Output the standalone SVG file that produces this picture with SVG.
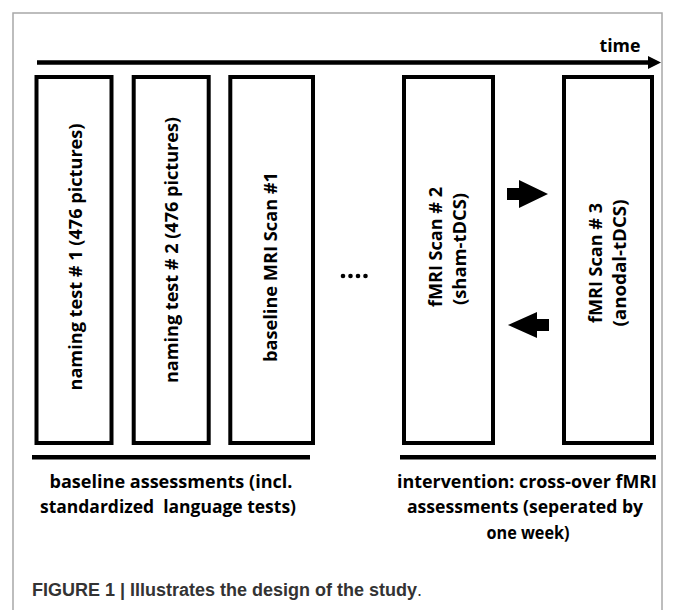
<svg xmlns="http://www.w3.org/2000/svg" width="676" height="610" viewBox="0 0 676 610">
  <style>
    .box { fill: #ffffff; stroke: #000000; stroke-width: 4; }
    .lbl { font-family: "Open Sans", "DejaVu Sans", sans-serif; font-weight: 700; font-size: 17.5px; fill: #000000; text-anchor: middle; }
    .bar { fill: #000000; }
    .cap { font-family: "Liberation Sans", Arial, sans-serif; font-weight: 700; font-size: 18px; fill: #333333; }
  </style>
  <rect x="0" y="0" width="676" height="610" fill="#ffffff"/>
  <rect x="13" y="13" width="649" height="620" fill="none" stroke="#a8a8a8" stroke-width="1.5"/>

  <g id="timeline">
    <line x1="37" y1="62.5" x2="650" y2="62.5" stroke="#000000" stroke-width="4.5"/>
    <polygon points="648,56 661,62.5 648,69" fill="#000000"/>
    <text class="lbl" x="620" y="52" textLength="41" lengthAdjust="spacingAndGlyphs">time</text>
  </g>

  <g id="node-naming1">
    <rect class="box" x="36.5" y="77" width="75" height="366"/>
    <text class="lbl" transform="translate(81.5,257) rotate(-90)" x="0" y="0" textLength="267" lengthAdjust="spacingAndGlyphs">naming test # 1 (476 pictures)</text>
  </g>
  <g id="node-naming2">
    <rect class="box" x="133.7" y="77" width="75" height="366"/>
    <text class="lbl" transform="translate(178,250) rotate(-90)" x="0" y="0" textLength="266" lengthAdjust="spacingAndGlyphs">naming test # 2 (476 pictures)</text>
  </g>
  <g id="node-mri1">
    <rect class="box" x="230.3" y="77" width="82.7" height="366"/>
    <text class="lbl" transform="translate(277,267) rotate(-90)" x="0" y="0" textLength="190" lengthAdjust="spacingAndGlyphs">baseline MRI Scan #1</text>
  </g>
  <g id="node-dots">
    <circle cx="343" cy="276" r="2.3"/>
    <circle cx="350.5" cy="276" r="2.3"/>
    <circle cx="358" cy="276" r="2.3"/>
    <circle cx="365.5" cy="276" r="2.3"/>
  </g>
  <g id="node-fmri2">
    <rect class="box" x="404" y="77" width="89" height="366"/>
    <text class="lbl" transform="translate(442,247) rotate(-90)" x="0" y="0" textLength="120" lengthAdjust="spacingAndGlyphs">fMRI Scan # 2</text>
    <text class="lbl" transform="translate(466,249) rotate(-90)" x="0" y="0" textLength="112" lengthAdjust="spacingAndGlyphs">(sham-tDCS)</text>
  </g>
  <g id="node-fmri3">
    <rect class="box" x="564" y="77" width="88" height="366"/>
    <text class="lbl" transform="translate(602,263) rotate(-90)" x="0" y="0" textLength="120" lengthAdjust="spacingAndGlyphs">fMRI Scan # 3</text>
    <text class="lbl" transform="translate(626,263) rotate(-90)" x="0" y="0" textLength="127" lengthAdjust="spacingAndGlyphs">(anodal-tDCS)</text>
  </g>

  <g id="connectors">
    <polygon points="507,188 519,188 519,180 548,194 519,208 519,200 507,200" fill="#000000"/>
    <polygon points="549,319 537,319 537,312 508,325 537,338 537,331 549,331" fill="#000000"/>
  </g>

  <g id="group-baseline">
    <rect class="bar" x="32" y="455" width="278" height="4.5"/>
    <text class="lbl" x="171" y="488" textLength="243" lengthAdjust="spacingAndGlyphs">baseline assessments (incl.</text>
    <text class="lbl" x="168" y="513" textLength="256" lengthAdjust="spacingAndGlyphs">standardized&#160; language tests)</text>
  </g>
  <g id="group-intervention">
    <rect class="bar" x="400" y="455" width="256" height="4.5"/>
    <text class="lbl" x="527" y="488" textLength="260" lengthAdjust="spacingAndGlyphs">intervention: cross-over fMRI</text>
    <text class="lbl" x="525" y="513" textLength="236" lengthAdjust="spacingAndGlyphs">assessments (seperated by</text>
    <text class="lbl" x="528" y="539" textLength="83" lengthAdjust="spacingAndGlyphs">one week)</text>
  </g>

  <text class="cap" x="32" y="596">FIGURE 1 | Illustrates the design of the study<tspan font-weight="400">.</tspan></text>
</svg>
